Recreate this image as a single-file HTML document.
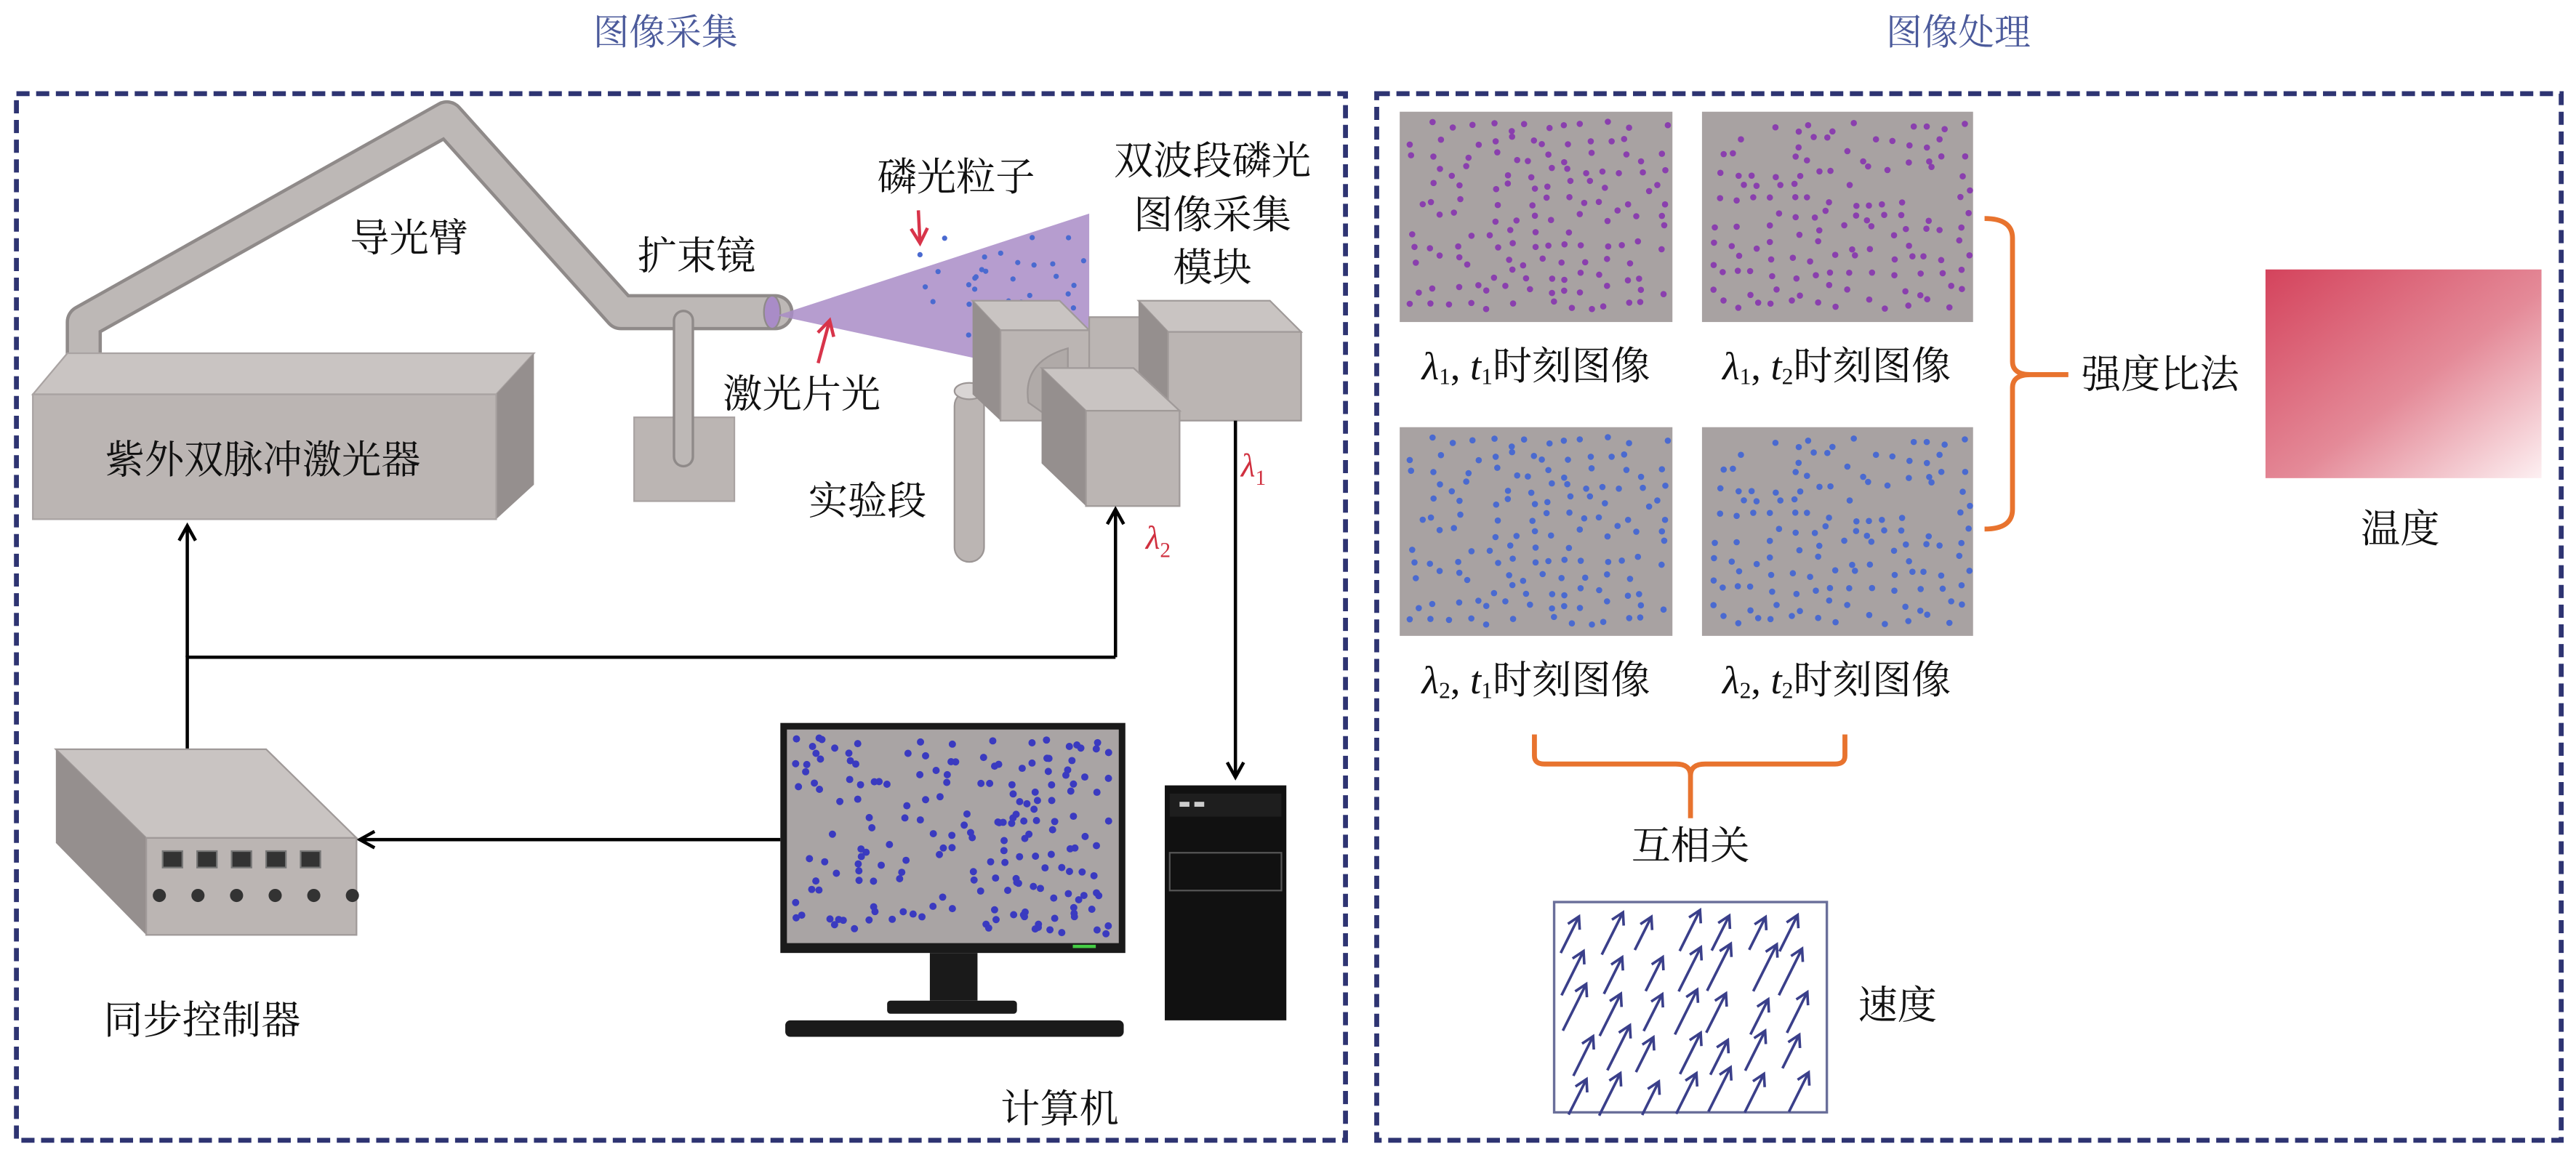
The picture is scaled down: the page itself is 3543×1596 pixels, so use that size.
<!DOCTYPE html>
<html><head><meta charset="utf-8"><style>
html,body{margin:0;padding:0;background:#fff;}
svg{display:block;}
text{font-family:"Liberation Serif","Noto Serif CJK SC","Noto Sans CJK SC",serif;}
.lb{font-size:24px;fill:#111;text-anchor:middle;dominant-baseline:central;}
.it{font-style:italic;}
</style></head><body>
<svg id="s" width="3543" height="1596" viewBox="0 0 1568 706" preserveAspectRatio="none" xmlns="http://www.w3.org/2000/svg">
<defs>
<marker id="ah" markerWidth="12" markerHeight="12" refX="10" refY="6" orient="auto" markerUnits="userSpaceOnUse">
<path d="M1,1 L10,6 L1,11" fill="none" stroke="#000" stroke-width="2"/></marker>
<marker id="rh" markerWidth="12" markerHeight="12" refX="10" refY="6" orient="auto" markerUnits="userSpaceOnUse">
<path d="M1,1 L10,6 L1,11" fill="none" stroke="#d8344a" stroke-width="2"/></marker>
<marker id="vh" markerWidth="10" markerHeight="10" refX="8" refY="5" orient="auto" markerUnits="userSpaceOnUse">
<path d="M1,1 L8,5 L1,9" fill="none" stroke="#3a3f8a" stroke-width="1.6"/></marker>
<linearGradient id="tg" x1="0" y1="0" x2="1" y2="1">
<stop offset="0" stop-color="#d4435c"/><stop offset="0.55" stop-color="#e48a98"/><stop offset="1" stop-color="#fdf0f2"/></linearGradient>
</defs>

<text x="405" y="20" font-size="22" fill="#4b5a9b" text-anchor="middle" dominant-baseline="central">图像采集</text>
<text x="1192" y="20" font-size="22" fill="#4b5a9b" text-anchor="middle" dominant-baseline="central">图像处理</text>

<rect x="10" y="57" width="809" height="637" fill="none" stroke="#2e3472" stroke-width="3" stroke-dasharray="8,4"/>
<rect x="838" y="57" width="721" height="637" fill="none" stroke="#2e3472" stroke-width="3" stroke-dasharray="8,4"/>

<polyline points="51,225 51,196 272,72 378,190 472,190" fill="none" stroke="#8f8a89" stroke-width="22" stroke-linejoin="round" stroke-linecap="round"/>
<polyline points="51,225 51,196 272,72 378,190 472,190" fill="none" stroke="#bdb8b6" stroke-width="18" stroke-linejoin="round" stroke-linecap="round"/>

<polygon points="20,240 41,215 325,215 302,240" fill="#c9c4c2" stroke="#a9a3a2" stroke-width="1"/>
<polygon points="302,240 325,215 325,295 302,316" fill="#958f8e"/>
<rect x="20" y="240" width="282" height="76" fill="#bbb5b3" stroke="#a9a3a2" stroke-width="1"/>
<text class="lb" x="160" y="280">紫外双脉冲激光器</text>

<rect x="386" y="254" width="61" height="51" fill="#bbb5b3" stroke="#a9a3a2"/>
<line x1="416" y1="195" x2="416" y2="278" stroke="#8f8a89" stroke-width="13" stroke-linecap="round"/>
<line x1="416" y1="195" x2="416" y2="278" stroke="#bdb8b6" stroke-width="10" stroke-linecap="round"/>
<ellipse cx="470" cy="190" rx="5" ry="10" fill="#a98cc7" stroke="#8f8a89"/>

<polygon points="473,192 663,130 663,233" fill="#a98cc7" opacity="0.85"/>
<g id="sheetdots" fill="#4a6ad0"></g>

<rect x="581" y="238" width="18" height="104" rx="9" fill="#bbb5b3" stroke="#9c9695"/>
<ellipse cx="590" cy="238" rx="9" ry="5" fill="#d9d5d4" stroke="#9c9695"/>

<polygon points="592,183 645,183 663,201 609,201" fill="#c9c4c2" stroke="#a09a99"/>
<polygon points="592,183 609,201 609,256 592,240" fill="#958f8e"/>
<rect x="609" y="201" width="54" height="55" fill="#bbb5b3" stroke="#a09a99"/>
<rect x="663" y="193" width="45" height="62" fill="#bbb5b3" stroke="#a09a99"/>
<ellipse cx="704" cy="224" rx="6" ry="30" fill="#a9a3a2"/>
<polygon points="693,183 773,183 792,202 711,202" fill="#c9c4c2" stroke="#a09a99"/>
<polygon points="693,183 711,202 711,256 693,240" fill="#958f8e"/>
<rect x="711" y="202" width="81" height="54" fill="#bbb5b3" stroke="#a09a99"/>
<path d="M650,212 Q622,220 626,245 L650,262 Z" fill="#b0aaa8" stroke="#9c9695"/>
<polygon points="634,224 690,224 718,250 661,250" fill="#c9c4c2" stroke="#a09a99"/>
<polygon points="634,224 661,250 661,308 634,282" fill="#958f8e"/>
<rect x="661" y="250" width="57" height="58" fill="#bbb5b3" stroke="#a09a99"/>

<text class="lb" x="249" y="145">导光臂</text>
<text class="lb" x="424" y="156">扩束镜</text>
<text class="lb" x="582" y="108">磷光粒子</text>
<text class="lb" x="488" y="240">激光片光</text>
<text class="lb" x="528" y="305">实验段</text>
<text class="lb" x="738" y="98">双波段磷光</text>
<text class="lb" x="738" y="131">图像采集</text>
<text class="lb" x="738" y="163">模块</text>
<line x1="559" y1="128" x2="560" y2="148" stroke="#d8344a" stroke-width="2" marker-end="url(#rh)"/>
<line x1="498" y1="221" x2="505" y2="195" stroke="#d8344a" stroke-width="2" marker-end="url(#rh)"/>
<text x="763" y="290" font-size="20" fill="#d0303f" class="it" text-anchor="middle">λ<tspan font-size="13" dy="5" font-style="normal">1</tspan></text>
<text x="705" y="334" font-size="20" fill="#d0303f" class="it" text-anchor="middle">λ<tspan font-size="13" dy="5" font-style="normal">2</tspan></text>

<polyline points="114,456 114,400 679,400" fill="none" stroke="#000" stroke-width="2"/>
<line x1="114" y1="400" x2="114" y2="320" stroke="#000" stroke-width="2" marker-end="url(#ah)"/>
<line x1="679" y1="400" x2="679" y2="310" stroke="#000" stroke-width="2" marker-end="url(#ah)"/>
<line x1="752" y1="256" x2="752" y2="473" stroke="#000" stroke-width="2" marker-end="url(#ah)"/>
<line x1="475" y1="511" x2="219" y2="511" stroke="#000" stroke-width="2" marker-end="url(#ah)"/>

<polygon points="34,456 162,456 217,510 89,510" fill="#c9c4c2" stroke="#a09a99"/>
<polygon points="34,456 89,510 89,569 34,513" fill="#958f8e"/>
<rect x="89" y="510" width="128" height="59" fill="#bbb5b3" stroke="#a09a99"/>
<g id="ports"></g>
<text class="lb" x="123" y="621">同步控制器</text>

<rect x="475" y="440" width="210" height="140" fill="#1a1a1a"/>
<rect x="479" y="444" width="202" height="130" fill="#a9a4a4"/>
<g id="mondots" fill="#3a3ac0"></g>
<rect x="653" y="575" width="14" height="2" fill="#4c4"/>
<rect x="566" y="580" width="29" height="29" fill="#1a1a1a"/>
<rect x="540" y="609" width="79" height="8" rx="2" fill="#1a1a1a"/>
<rect x="478" y="621" width="206" height="10" rx="3" fill="#1a1a1a"/>
<rect x="709" y="478" width="74" height="143" fill="#111"/>
<rect x="712" y="483" width="68" height="14" fill="#1e1e1e"/>
<rect x="718" y="488" width="6" height="3" fill="#ccc"/><rect x="727" y="488" width="6" height="3" fill="#ccc"/>
<rect x="712" y="519" width="68" height="23" fill="none" stroke="#555" stroke-width="1"/>
<text class="lb" x="645" y="675">计算机</text>

<rect x="852" y="68" width="166" height="128" fill="#a8a2a2"/>
<rect x="1036" y="68" width="165" height="128" fill="#a8a2a2"/>
<rect x="852" y="260" width="166" height="127" fill="#a8a2a2"/>
<rect x="1036" y="260" width="165" height="127" fill="#a8a2a2"/>
<g id="tiledots"></g>

<text class="lb" x="935" y="223"><tspan class="it">λ</tspan><tspan font-size="14" dy="6">1</tspan><tspan dy="-6">, </tspan><tspan class="it">t</tspan><tspan font-size="14" dy="6">1</tspan><tspan dy="-6">时刻图像</tspan></text>
<text class="lb" x="1118" y="223"><tspan class="it">λ</tspan><tspan font-size="14" dy="6">1</tspan><tspan dy="-6">, </tspan><tspan class="it">t</tspan><tspan font-size="14" dy="6">2</tspan><tspan dy="-6">时刻图像</tspan></text>
<text class="lb" x="935" y="414"><tspan class="it">λ</tspan><tspan font-size="14" dy="6">2</tspan><tspan dy="-6">, </tspan><tspan class="it">t</tspan><tspan font-size="14" dy="6">1</tspan><tspan dy="-6">时刻图像</tspan></text>
<text class="lb" x="1118" y="414"><tspan class="it">λ</tspan><tspan font-size="14" dy="6">2</tspan><tspan dy="-6">, </tspan><tspan class="it">t</tspan><tspan font-size="14" dy="6">2</tspan><tspan dy="-6">时刻图像</tspan></text>

<path d="M1208,133 Q1225,133 1225,145 L1225,220 Q1225,228 1236,228 L1259,228 M1236,228 Q1225,228 1225,236 L1225,310 Q1225,322 1208,322" fill="none" stroke="#e8732e" stroke-width="3"/>
<path d="M934,447 L934,460 Q934,465 940,465 L1020,465 Q1029,465 1029,472 L1029,498 M1029,472 Q1029,465 1038,465 L1117,465 Q1123,465 1123,460 L1123,447" fill="none" stroke="#e8732e" stroke-width="3"/>
<text class="lb" x="1315" y="228">强度比法</text>
<rect x="1379" y="164" width="168" height="127" fill="url(#tg)"/>
<text class="lb" x="1461" y="322">温度</text>
<text class="lb" x="1029" y="515">互相关</text>

<rect x="946" y="549" width="166" height="128" fill="#fff" stroke="#6a6f9a" stroke-width="1.5"/>
<g id="vel" stroke="#3a3f8a" stroke-width="1.6"></g>
<text class="lb" x="1155" y="612">速度</text>
</svg>
<script>
(function(){
var NS="http://www.w3.org/2000/svg";
var seed=7;function r(){seed=(seed*16807)%2147483647;return seed/2147483647;}
function c(g,x,y,rad,fill){var e=document.createElementNS(NS,"circle");e.setAttribute("cx",x.toFixed(1));e.setAttribute("cy",y.toFixed(1));e.setAttribute("r",rad);if(fill)e.setAttribute("fill",fill);g.appendChild(e);}
var sd=document.getElementById("sheetdots");
for(var i=0;i<45;i++){var x=555+r()*105,y=140+r()*85;var top=192-(x-473)*62/190,bot=192+(x-473)*41/190;if(y>top+3&&y<bot-3)c(sd,x,y,1.6);}
c(sd,560,155,1.6);c(sd,575,145,1.6);
var md=document.getElementById("mondots");
for(i=0;i<190;i++)c(md,484+r()*192,449+r()*120,2.2);
var td=document.getElementById("tiledots");
var tiles=[[852,68,"#8a3fae"],[1036,68,"#8a3fae"],[852,260,"#4a6ad0"],[1036,260,"#4a6ad0"]];
for(var t=0;t<4;t++){seed=11+(t%2)*5;
 for(var gy=0;gy<13;gy++)for(var gx=0;gx<14;gx++){if(r()<0.2)continue;c(td,tiles[t][0]+6+gx*11.5+r()*8,tiles[t][1]+6+gy*9+r()*7,1.9,tiles[t][2]);}}
var p=document.getElementById("ports");
for(i=0;i<5;i++){var q=document.createElementNS(NS,"rect");q.setAttribute("x",99+i*21);q.setAttribute("y",518);q.setAttribute("width",12);q.setAttribute("height",10);q.setAttribute("fill","#333");q.setAttribute("stroke","#777");p.appendChild(q);}
for(i=0;i<6;i++)c(p,97+i*23.5,545,4,"#333");
var v=document.getElementById("vel");seed=3;
for(var a=0;a<5;a++)for(var b=0;b<7;b++){var x0=950+b*22+r()*8,y0=578+a*24+r()*5,len=22+r()*10;var l=document.createElementNS(NS,"line");l.setAttribute("x1",x0.toFixed(1));l.setAttribute("y1",y0.toFixed(1));l.setAttribute("x2",(x0+len*0.45).toFixed(1));l.setAttribute("y2",(y0-len*0.9).toFixed(1));l.setAttribute("marker-end","url(#vh)");v.appendChild(l);}
})();
</script>
</body></html>
